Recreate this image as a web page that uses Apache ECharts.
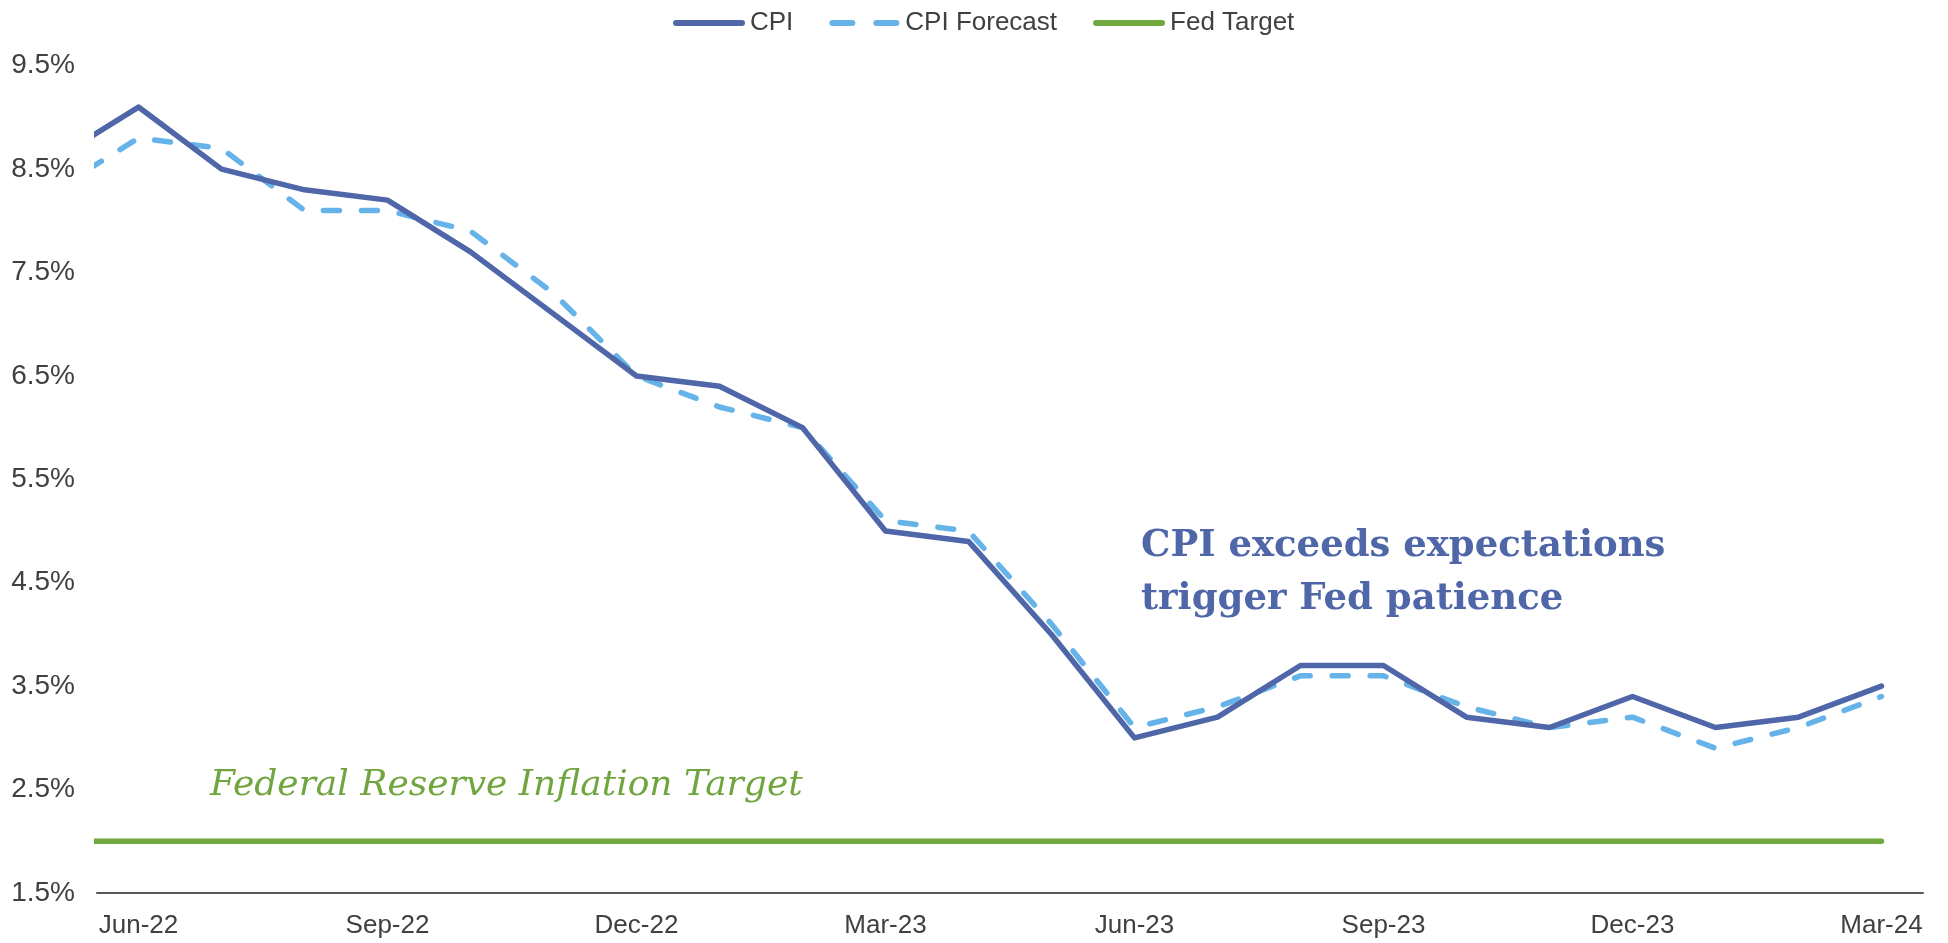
<!DOCTYPE html>
<html>
<head>
<meta charset="utf-8">
<script src="https://cdn.jsdelivr.net/npm/echarts@6/dist/echarts.min.js"></script>
<style>
html,body{margin:0;padding:0;background:#fff;}
#chart{width:1948px;height:943px;}
</style>
</head>
<body>
<div id="chart"></div>
<script>
// Months (May-22 is only partly visible: the axis starts half a month before Jun-22)
const months = ["May-22","Jun-22","Jul-22","Aug-22","Sep-22","Oct-22","Nov-22","Dec-22",
  "Jan-23","Feb-23","Mar-23","Apr-23","May-23","Jun-23","Jul-23","Aug-23","Sep-23","Oct-23","Nov-23","Dec-23",
  "Jan-24","Feb-24","Mar-24"];
const cpi = [8.6, 9.1, 8.5, 8.3, 8.2, 7.7, 7.1, 6.5, 6.4, 6.0, 5.0, 4.9, 4.0, 3.0, 3.2, 3.7, 3.7, 3.2, 3.1, 3.4, 3.1, 3.2, 3.5];
const cpiForecast = [8.3, 8.8, 8.7, 8.1, 8.1, 7.9, 7.3, 6.5, 6.2, 6.0, 5.1, 5.0, 4.1, 3.1, 3.3, 3.6, 3.6, 3.3, 3.1, 3.2, 2.9, 3.1, 3.4];
const fedTarget = [2.0, 2.0, 2.0, 2.0, 2.0, 2.0, 2.0, 2.0, 2.0, 2.0, 2.0, 2.0, 2.0, 2.0, 2.0, 2.0, 2.0, 2.0, 2.0, 2.0, 2.0, 2.0, 2.0];
const xTickLabels = ["Jun-22","Sep-22","Dec-22","Mar-23","Jun-23","Sep-23","Dec-23","Mar-24"];
const yTicks = [1.5, 2.5, 3.5, 4.5, 5.5, 6.5, 7.5, 8.5, 9.5];
const annotationMain = ["CPI exceeds expectations", "trigger Fed patience"];
const annotationTarget = "Federal Reserve Inflation Target";

const toPairs = arr => arr.map((v, i) => [i, v]);
const xTickValues = xTickLabels.map(l => months.indexOf(l));

const chart = echarts.init(document.getElementById('chart'), null, {renderer: 'canvas'});
const labelFont = '"Liberation Sans", Arial, sans-serif';

const solidIcon = 'path://M3,0h66a3,3 0 0 1 0,6h-66a3,3 0 0 1 0,-6z';
const dashIcon = 'path://M3,0h20a3,3 0 0 1 0,6h-20a3,3 0 0 1 0,-6z M47,0h20a3,3 0 0 1 0,6h-20a3,3 0 0 1 0,-6z';

chart.setOption({
  animation: false,
  backgroundColor: '#ffffff',
  grid: {left: 97, right: 25, top: 65.7, bottom: 50, containLabel: false},
  legend: {
    top: 5, left: 668,
    itemWidth: 72, itemHeight: 6, itemGap: 36,
    textStyle: {fontFamily: labelFont, fontSize: 26, color: '#404040'},
    data: [
      {name: 'CPI', icon: solidIcon},
      {name: 'CPI Forecast', icon: dashIcon},
      {name: 'Fed Target', icon: solidIcon}
    ]
  },
  xAxis: {
    type: 'value',
    min: 0.5, max: months.length - 0.5,
    axisLine: {show: true, lineStyle: {color: '#595959', width: 2}},
    axisTick: {show: false},
    splitLine: {show: false},
    axisLabel: {
      customValues: xTickValues,
      formatter: v => months[Math.round(v)],
      fontFamily: labelFont, fontSize: 26, color: '#404040', margin: 20
    }
  },
  yAxis: {
    type: 'value',
    min: yTicks[0], max: yTicks[yTicks.length - 1], interval: 1,
    axisLine: {show: false},
    axisTick: {show: false},
    splitLine: {show: false},
    axisLabel: {
      formatter: v => v.toFixed(1) + '%',
      fontFamily: labelFont, fontSize: 28, color: '#404040', margin: 22
    }
  },
  series: [
    {
      name: 'CPI', type: 'line', data: toPairs(cpi),
      showSymbol: false, symbol: 'none', z: 3,
      lineStyle: {color: '#4F67A8', width: 5.5, cap: 'round', join: 'round'},
      itemStyle: {color: '#4F67A8'}
    },
    {
      name: 'CPI Forecast', type: 'line', data: toPairs(cpiForecast),
      showSymbol: false, symbol: 'none', z: 2,
      lineStyle: {color: '#65B3E9', width: 5.5, type: [16, 22], cap: 'round', join: 'round'},
      itemStyle: {color: '#65B3E9'}
    },
    {
      name: 'Fed Target', type: 'line', data: toPairs(fedTarget),
      showSymbol: false, symbol: 'none', z: 1,
      lineStyle: {color: '#70A83E', width: 5.5, cap: 'round'},
      itemStyle: {color: '#70A83E'}
    }
  ],
  graphic: [
    {
      type: 'text', left: 1141, top: 520,
      style: {
        text: annotationMain.join('\n'),
        font: 'bold 37px "DejaVu Serif", Georgia, serif',
        lineHeight: 53,
        fill: '#4F67A8'
      }
    },
    {
      type: 'text', left: 210, top: 768,
      style: {
        text: annotationTarget,
        font: 'italic 36px "DejaVu Serif", Georgia, serif',
        fill: '#71A53F'
      }
    }
  ]
});
</script>
</body>
</html>
